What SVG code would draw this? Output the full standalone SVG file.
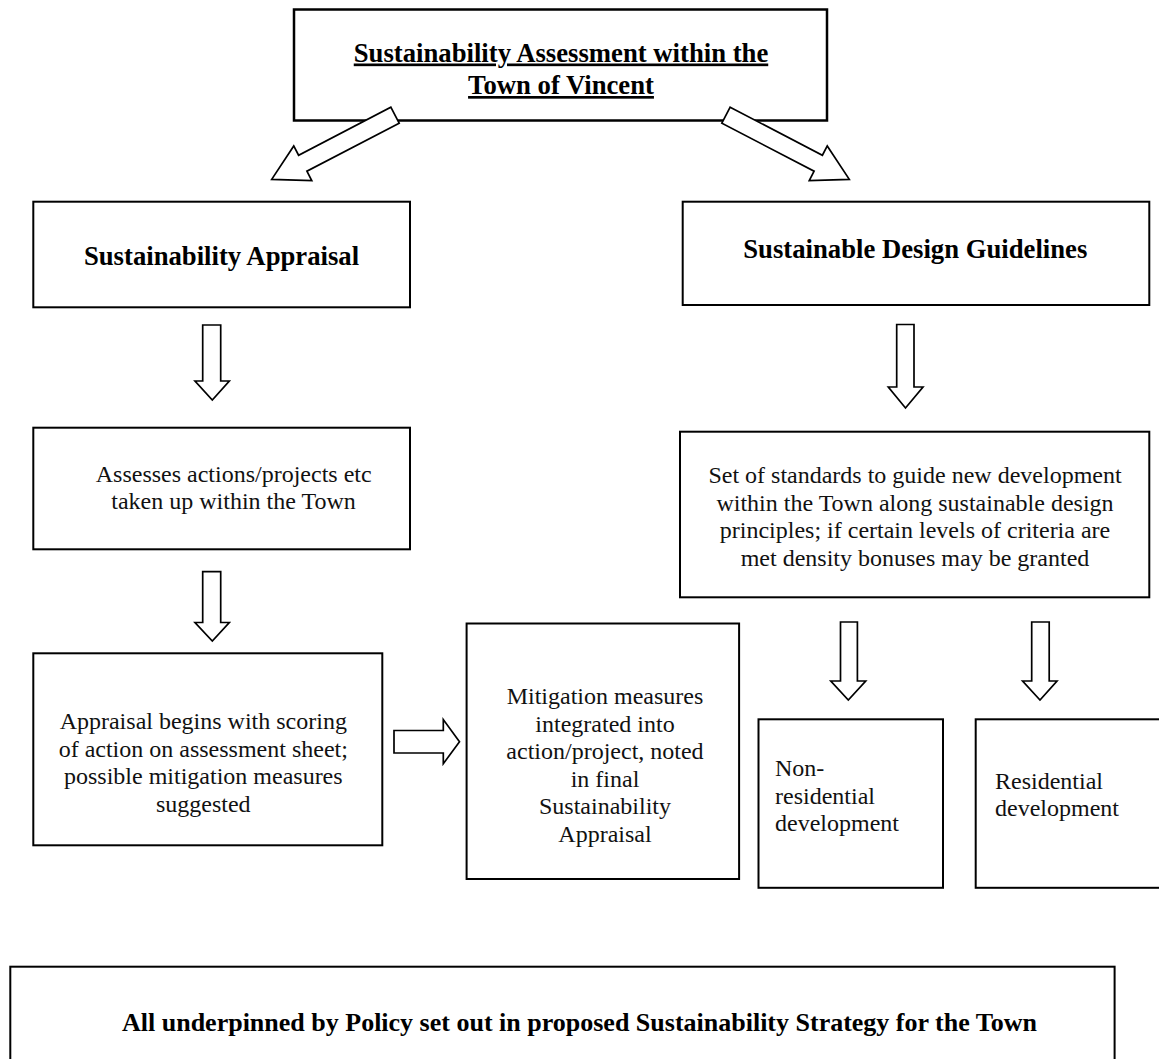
<svg xmlns="http://www.w3.org/2000/svg" width="1159" height="1059" viewBox="0 0 1159 1059">
<style>
.box{fill:#fff;stroke:#000;stroke-width:2}
.arr{fill:#fff;stroke:#000;stroke-width:1.7;stroke-linejoin:miter}
.t{font-family:"Liberation Serif","Times New Roman",serif;font-size:24px;fill:#111}
.h{font-family:"Liberation Serif","Times New Roman",serif;font-size:26.7px;font-weight:bold;fill:#000}
.m{text-anchor:middle}
</style>
<rect width="1159" height="1059" fill="#fff"/>
<g id="n-title">
<rect class="box" x="294" y="9.5" width="533" height="111" style="stroke-width:2.5"/>
<text class="h m" x="561" y="61.5" text-decoration="underline">Sustainability Assessment within the</text>
<text class="h m" x="561" y="94" text-decoration="underline">Town of Vincent</text>
</g>
<g id="n-appraisal">
<rect class="box" x="33.3" y="201.7" width="376.7" height="105.6"/>
<text class="h m" x="221.5" y="265">Sustainability Appraisal</text>
</g>
<g id="n-guidelines">
<rect class="box" x="682.7" y="201.7" width="466.6" height="103.3"/>
<text class="h m" x="915.3" y="258.3">Sustainable Design Guidelines</text>
</g>
<g id="n-assesses">
<rect class="box" x="33.3" y="427.7" width="376.7" height="121.6"/>
<text class="t m" x="233.7" y="481.7">Assesses actions/projects etc</text>
<text class="t m" x="233.5" y="509.3">taken up within the Town</text>
</g>
<g id="n-standards">
<rect class="box" x="680" y="431.7" width="469.3" height="165.6"/>
<text class="t m" x="915" y="483.3">Set of standards to guide new development</text>
<text class="t m" x="915" y="510.7">within the Town along sustainable design</text>
<text class="t m" x="915" y="538.3">principles; if certain levels of criteria are</text>
<text class="t m" x="915" y="565.7">met density bonuses may be granted</text>
</g>
<g id="n-scoring">
<rect class="box" x="33.3" y="653.3" width="349" height="192"/>
<text class="t m" x="203.3" y="729.3">Appraisal begins with scoring</text>
<text class="t m" x="203.3" y="756.7">of action on assessment sheet;</text>
<text class="t m" x="203.3" y="784.3">possible mitigation measures</text>
<text class="t m" x="203.3" y="811.7">suggested</text>
</g>
<g id="n-mitigation">
<rect class="box" x="466.6" y="623.5" width="272.5" height="255.5"/>
<text class="t m" x="605" y="704">Mitigation measures</text>
<text class="t m" x="605" y="731.5">integrated into</text>
<text class="t m" x="605" y="759">action/project, noted</text>
<text class="t m" x="605" y="786.5">in final</text>
<text class="t m" x="605" y="814">Sustainability</text>
<text class="t m" x="605" y="841.5">Appraisal</text>
</g>
<g id="n-nonres">
<rect class="box" x="758.5" y="719.3" width="184.5" height="168.5"/>
<text class="t" x="775" y="776.3">Non-</text>
<text class="t" x="775" y="803.8">residential</text>
<text class="t" x="775" y="831.3">development</text>
</g>
<g id="n-res">
<rect class="box" x="975.7" y="719.3" width="200" height="168.5"/>
<text class="t" x="995" y="788.7">Residential</text>
<text class="t" x="995" y="816.2">development</text>
</g>
<g id="n-policy">
<rect class="box" x="10.3" y="966.7" width="1104.3" height="110"/>
<text class="h m" x="579.5" y="1031" style="font-size:26px">All underpinned by Policy set out in proposed Sustainability Strategy for the Town</text>
</g>
<g id="connectors">
<polygon class="arr" transform="translate(395,115.2) rotate(152.5)" points="0,-9 104,-9 104,-19.5 139,0 104,19.5 104,9 0,9"/>
<polygon class="arr" transform="translate(726,115.2) rotate(27.5)" points="0,-9 104,-9 104,-19.5 139,0 104,19.5 104,9 0,9"/>
<polygon class="arr" points="202.7,325 220.7,325 220.7,381 229.3,381 212.3,400 195,381 202.7,381"/>
<polygon class="arr" points="202.7,571.7 220.7,571.7 220.7,622.5 229.3,622.5 212.3,641 195,622.5 202.7,622.5"/>
<polygon class="arr" points="896.7,324.5 914,324.5 914,387 923,387 905.5,408 888.3,387 896.7,387"/>
<polygon class="arr" points="394,730.5 443.3,730.5 443.3,719.5 459.5,741.7 443.3,763.7 443.3,753 394,753"/>
<polygon class="arr" points="840.5,622 857.4,622 857.4,681 865.7,681 848.3,700 830.8,681 840.5,681"/>
<polygon class="arr" points="1031.7,622 1049.2,622 1049.2,681 1057,681 1040,700 1022.6,681 1031.7,681"/>
</g>
</svg>
